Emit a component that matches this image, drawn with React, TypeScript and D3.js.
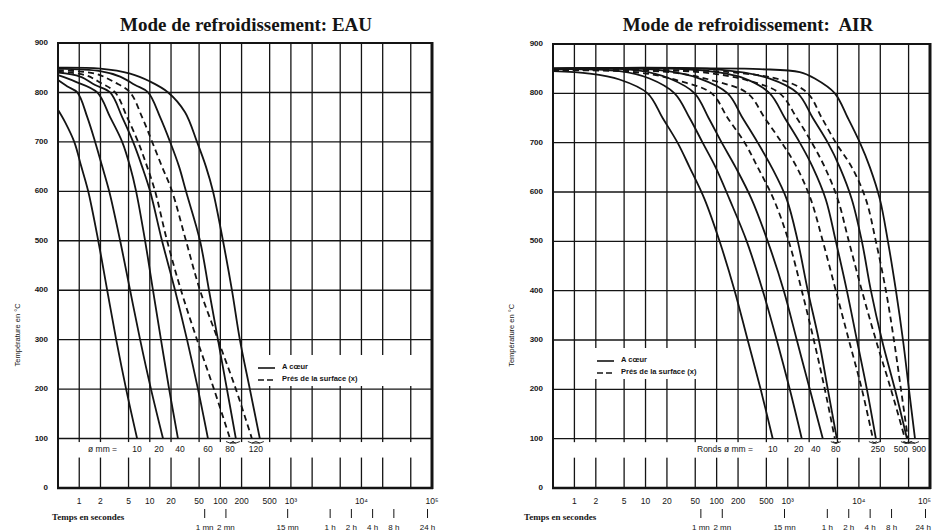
import React from "react";
import * as d3 from "d3";

type Pt = [number, number];

// ---- axes data ----
const GRID_TIMES = [1, 2, 5, 10, 20, 50, 100, 200, 500, 1000, 2000, 5000, 10000, 20000, 50000];
const TICK_TIMES = [1, 2, 5, 10, 20, 50, 100, 200, 500, 1000, 10000, 100000];
const TICK_LABELS = ["1", "2", "5", "10", "20", "50", "100", "200", "500", "10³", "10⁴", "10⁵"];
const CLOCK_TIMES = [60, 120, 900, 3600, 7200, 14400, 28800, 86400];
const CLOCK_LABELS = ["1 mn", "2 mn", "15 mn", "1 h", "2 h", "4 h", "8 h", "24 h"];
const TEMP_TICKS = [0, 100, 200, 300, 400, 500, 600, 700, 800, 900];

// ---- EAU (water) : [time s, temperature °C] ----
const EAU_10: Pt[] = [[0.5, 765], [0.63, 740], [0.85, 700], [1.07, 650], [1.34, 600], [1.86, 500], [2.49, 400], [3.34, 300], [4.62, 200], [6.61, 100]];
const EAU_20: Pt[] = [[0.5, 825], [0.68, 812], [0.94, 800], [1.3, 750], [1.68, 700], [2.12, 650], [2.66, 600], [3.8, 500], [5.26, 400], [7.29, 300], [10.4, 200], [15.4, 100]];
const EAU_40: Pt[] = [[0.5, 835], [0.88, 822], [1.8, 800], [2.74, 750], [4.06, 700], [5.26, 650], [6.4, 600], [8.58, 500], [11.1, 400], [14.4, 300], [18.8, 200], [25.1, 100]];
const EAU_60: Pt[] = [[0.5, 840], [1.03, 832], [1.68, 815], [2.74, 800], [4.06, 750], [5.8, 700], [7.78, 650], [10.1, 600], [14.9, 500], [22.8, 400], [33.7, 300], [48.2, 200], [66.8, 100]];
const EAU_80S: Pt[] = [[0.5, 842], [1.22, 835], [1.98, 820], [3.23, 800], [4.77, 750], [6.83, 700], [9.16, 650], [11.9, 600], [17.6, 500], [27.7, 400], [46.7, 300], [81.2, 200], [137, 100]];
const EAU_80C: Pt[] = [[0.5, 848], [1.98, 843], [3.8, 832], [6.19, 815], [9.46, 800], [14.0, 750], [19.4, 700], [26.0, 650], [32.6, 600], [51.5, 500], [69.0, 400], [92.5, 300], [124, 200], [166, 100]];
const EAU_120S: Pt[] = [[0.5, 845], [1.68, 838], [3.23, 820], [5.26, 800], [7.78, 750], [10.8, 700], [14.9, 650], [20.7, 600], [32.6, 500], [51.5, 400], [92.5, 300], [166, 200], [280, 100]];
const EAU_120C: Pt[] = [[0.5, 850], [1.98, 848], [5.26, 838], [10.1, 822], [18.2, 800], [31.6, 760], [46.7, 700], [62.5, 650], [78.6, 600], [109, 500], [146, 400], [189, 300], [262, 200], [363, 100]];
const EAU_LABELS = ["10", "20", "40", "60", "80", "120"];
const EAU_LABEL_T = [6.6, 13.5, 26.8, 66.8, 137, 319];

// ---- AIR : [time s, temperature °C] ----
const AIR_10: Pt[] = [[0.5, 845], [1.63, 840], [4.3, 828], [10.7, 800], [17.4, 750], [28.2, 700], [41.7, 650], [67.8, 585], [110, 500], [179, 400], [273, 300], [416, 200], [615, 100]];
const AIR_20: Pt[] = [[0.5, 849], [4.3, 845], [11.4, 830], [25.6, 800], [41.7, 750], [63.5, 700], [96.8, 650], [152, 585], [265, 500], [445, 400], [700, 300], [1067, 200], [1575, 100]];
const AIR_40: Pt[] = [[0.5, 850], [8.23, 846], [21.8, 830], [49.0, 800], [77.1, 750], [118, 700], [185, 650], [311, 585], [523, 500], [879, 400], [1340, 300], [2042, 200], [3113, 100]];
const AIR_80S: Pt[] = [[0.5, 847], [8.23, 842], [30.1, 825], [85.1, 800], [143, 750], [248, 700], [378, 650], [635, 585], [1033, 500], [1575, 400], [2323, 300], [3321, 200], [4592, 100]];
const AIR_80C: Pt[] = [[0.5, 850], [15.7, 847], [57.7, 830], [143, 800], [232, 750], [378, 700], [595, 650], [968, 585], [1384, 500], [1914, 400], [2735, 300], [3658, 200], [4898, 100]];
const AIR_250S: Pt[] = [[0.5, 847], [21.8, 843], [93.7, 825], [273, 800], [475, 750], [823, 700], [1340, 650], [2109, 585], [3113, 500], [4743, 400], [7227, 300], [11020, 200], [15740, 100]];
const AIR_250C: Pt[] = [[0.5, 850], [57.7, 847], [248, 830], [558, 800], [908, 750], [1476, 700], [2250, 650], [3428, 585], [4743, 500], [6776, 400], [9371, 300], [12970, 200], [17340, 100]];
const AIR_500S: Pt[] = [[0.5, 847], [57.7, 843], [292, 825], [771, 800], [1340, 750], [2178, 700], [3321, 650], [5058, 585], [7227, 500], [11020, 400], [17340, 300], [28240, 200], [44460, 100]];
const AIR_500C: Pt[] = [[0.5, 850], [110, 848], [558, 830], [1384, 800], [2250, 750], [3658, 700], [5395, 650], [7962, 585], [11020, 500], [14760, 400], [21090, 300], [32150, 200], [47450, 100]];
const AIR_900S: Pt[] = [[0.5, 847], [152, 843], [908, 825], [1914, 800], [3013, 750], [4743, 700], [7962, 650], [12550, 585], [17340, 500], [23990, 400], [31110, 300], [39060, 200], [48980, 100]];
const AIR_900C: Pt[] = [[0.5, 850], [403, 849], [1476, 843], [2399, 830], [4592, 800], [6997, 750], [10330, 700], [14290, 650], [19770, 585], [25600, 500], [33200, 400], [41680, 300], [50580, 200], [61510, 100]];
const AIR_LABELS = ["10", "20", "40", "80", "250", "500", "900"];
const AIR_LABEL_T = [615, 1429, 2479, 4743, 18530, 39060, 69980];

type Curve = { data: Pt[]; dashed: boolean };

const EAU_CURVES: Curve[] = [
  { data: EAU_10, dashed: false }, { data: EAU_20, dashed: false }, { data: EAU_40, dashed: false },
  { data: EAU_60, dashed: false }, { data: EAU_80S, dashed: true }, { data: EAU_80C, dashed: false },
  { data: EAU_120S, dashed: true }, { data: EAU_120C, dashed: false },
];
const EAU_PAIRS: [Pt[], Pt[]][] = [[EAU_80S, EAU_80C], [EAU_120S, EAU_120C]];

const AIR_CURVES: Curve[] = [
  { data: AIR_10, dashed: false }, { data: AIR_20, dashed: false }, { data: AIR_40, dashed: false },
  { data: AIR_80S, dashed: true }, { data: AIR_80C, dashed: false },
  { data: AIR_250S, dashed: true }, { data: AIR_250C, dashed: false },
  { data: AIR_500S, dashed: true }, { data: AIR_500C, dashed: false },
  { data: AIR_900S, dashed: true }, { data: AIR_900C, dashed: false },
];
const AIR_PAIRS: [Pt[], Pt[]][] = [[AIR_80S, AIR_80C], [AIR_250S, AIR_250C], [AIR_500S, AIR_500C], [AIR_900S, AIR_900C]];

type Cfg = {
  left: number; right: number; top: number; bottom: number;
  title: string; titleX: number;
  yTitleX: number;
  curves: Curve[]; pairs: [Pt[], Pt[]][];
  labels: string[]; labelT: number[];
  prefix: string; prefixX: number;
  legendX: number; legendY: number; legendBand: [number, number];
  secX: number;
};

const INK = "#141414";
const SANS = "'Liberation Sans', Arial, sans-serif";
const SERIF = "'Liberation Serif', 'Times New Roman', serif";

function Panel({ c }: { c: Cfg }) {
  const x = d3.scaleLog().domain([0.5, 1e5]).range([c.left, c.right]);
  const y = d3.scaleLinear().domain([0, 900]).range([c.bottom, c.top]);
  const line = d3.line<Pt>().x((d) => x(d[0])).y((d) => y(d[1])).curve(d3.curveCatmullRom.alpha(0.5));
  const y100 = y(100);
  const bandTop = y100 + 3.5;
  const bandBot = y100 + 19;
  const legRow1 = c.legendY;
  const legRow2 = c.legendY + 12;

  return (
    <g>
      <text x={c.titleX} y={31} textAnchor="middle" fontFamily={SERIF} fontWeight="bold" fontSize={19} fill={INK} style={{ whiteSpace: "pre" }}>
        {c.title}
      </text>

      {/* horizontal grid */}
      {TEMP_TICKS.filter((t) => t > 0 && t < 900).map((t) => (
        <line key={"h" + t} x1={c.left} x2={c.right} y1={y(t)} y2={y(t)} stroke={INK} strokeWidth={1.4} />
      ))}
      {/* vertical grid */}
      {GRID_TIMES.map((t) => (
        <line key={"v" + t} x1={x(t)} x2={x(t)} y1={c.top} y2={c.bottom} stroke={INK} strokeWidth={1.3} />
      ))}

      {/* white bands (label row and legend) */}
      <rect x={c.left + 1} y={bandTop} width={c.right - c.left - 2} height={bandBot - bandTop} fill="#fff" />
      <rect x={c.legendBand[0]} y={legRow1 - 12} width={c.legendBand[1] - c.legendBand[0]} height={31} fill="#fff" />

      {/* curves */}
      {c.curves.map((cv, i) => (
        <path key={"c" + i} d={line(cv.data) || ""} fill="none" stroke={INK} strokeWidth={1.8}
          strokeDasharray={cv.dashed ? "6 4" : undefined} />
      ))}

      {/* small marks joining surface & core ends */}
      {c.pairs.map((p, i) => {
        const a = x(p[0][p[0].length - 1][0]);
        const b = x(p[1][p[1].length - 1][0]);
        const yb = y100 + 3;
        const d = `M${a - 4},${yb} Q${a},${yb + 3} ${a + 4},${yb} M${b - 4},${yb} Q${b},${yb + 3} ${b + 4},${yb} M${a},${yb + 1.5} L${b},${yb + 1.5}`;
        return <path key={"p" + i} d={d} fill="none" stroke={INK} strokeWidth={0.9} />;
      })}

      {/* border */}
      <rect x={c.left} y={c.top} width={c.right - c.left} height={c.bottom - c.top} fill="none" stroke={INK} strokeWidth={2} />
      <line x1={c.right} x2={c.right} y1={c.top - 1} y2={c.bottom + 1} stroke={INK} strokeWidth={3} />
      <line x1={c.left - 1} x2={c.right + 1} y1={c.bottom} y2={c.bottom} stroke={INK} strokeWidth={2.6} />

      {/* diameter label row */}
      <text x={c.prefixX} y={y100 + 11.5} dominantBaseline="middle" fontFamily={SANS} fontSize={8.5} fill={INK}>{c.prefix}</text>
      {c.labels.map((l, i) => (
        <text key={"l" + i} x={x(c.labelT[i])} y={y100 + 11.5} dominantBaseline="middle" textAnchor="middle" fontFamily={SANS} fontSize={8.5} fill={INK}>{l}</text>
      ))}

      {/* legend */}
      <line x1={c.legendX} x2={c.legendX + 17} y1={legRow1 + 1} y2={legRow1 + 1} stroke={INK} strokeWidth={1.6} />
      <text x={c.legendX + 24} y={legRow1} dominantBaseline="middle" fontFamily={SANS} fontWeight="bold" fontSize={7.5} fill={INK}>A cœur</text>
      <line x1={c.legendX} x2={c.legendX + 17} y1={legRow2 + 1} y2={legRow2 + 1} stroke={INK} strokeWidth={1.6} strokeDasharray="6 3" />
      <text x={c.legendX + 24} y={legRow2} dominantBaseline="middle" fontFamily={SANS} fontWeight="bold" fontSize={7.5} fill={INK}>Prés de la surface (x)</text>

      {/* y tick labels */}
      {TEMP_TICKS.map((t) => (
        <text key={"yt" + t} x={c.left - 10} y={y(t)} textAnchor="end" dominantBaseline="middle" fontFamily={SANS} fontWeight="bold" fontSize={8} fill={INK}>{t}</text>
      ))}
      <text transform={`translate(${c.yTitleX},${(y(300) + y(400)) / 2 + 20}) rotate(-90)`} textAnchor="middle" dominantBaseline="middle" fontFamily={SANS} fontSize={7.5} fill={INK}>Température en °C</text>

      {/* x tick labels */}
      {TICK_TIMES.map((t, i) => {
        const px = x(t);
        const last = i === TICK_TIMES.length - 1;
        const edge = last && px + 8 > 932;
        return (
          <text key={"xt" + t} x={edge ? 931 : px} y={502} textAnchor={edge ? "end" : "middle"} dominantBaseline="middle" fontFamily={SANS} fontSize={8.5} fill={INK}>{TICK_LABELS[i]}</text>
        );
      })}
      <text x={c.secX} y={518} dominantBaseline="middle" fontFamily={SERIF} fontWeight="bold" fontSize={9} fill={INK}>Temps en secondes</text>
      {CLOCK_TIMES.map((t, i) => {
        const px = x(t);
        const edge = px + 10 > 932;
        return (
          <g key={"ck" + t}>
            <line x1={px} x2={px} y1={509} y2={518} stroke={INK} strokeWidth={1} />
            <text x={edge ? 931 : px} y={528} textAnchor={edge ? "end" : "middle"} dominantBaseline="middle" fontFamily={SANS} fontSize={8} fill={INK}>{CLOCK_LABELS[i]}</text>
          </g>
        );
      })}
    </g>
  );
}

const LEFT: Cfg = {
  left: 58, right: 432, top: 43, bottom: 488,
  title: "Mode de refroidissement: EAU", titleX: 246,
  yTitleX: 18,
  curves: EAU_CURVES, pairs: EAU_PAIRS,
  labels: EAU_LABELS, labelT: EAU_LABEL_T,
  prefix: "ø  mm  =", prefixX: 88,
  legendX: 258, legendY: 367, legendBand: [256, 430],
  secX: 52,
};

const RIGHT: Cfg = {
  left: 553, right: 930, top: 44, bottom: 488,
  title: "Mode de refroidissement:  AIR", titleX: 748,
  yTitleX: 512,
  curves: AIR_CURVES, pairs: AIR_PAIRS,
  labels: AIR_LABELS, labelT: AIR_LABEL_T,
  prefix: "Ronds  ø  mm  =", prefixX: 697,
  legendX: 597, legendY: 360, legendBand: [590, 712],
  secX: 524,
};

export default function App() {
  return (
    <svg width={932} height={531} viewBox="0 0 932 531" style={{ position: "absolute", left: 0, top: 0, background: "#fff" }}>
      <rect width={932} height={531} fill="#fff" />
      <Panel c={LEFT} />
      <Panel c={RIGHT} />
    </svg>
  );
}
